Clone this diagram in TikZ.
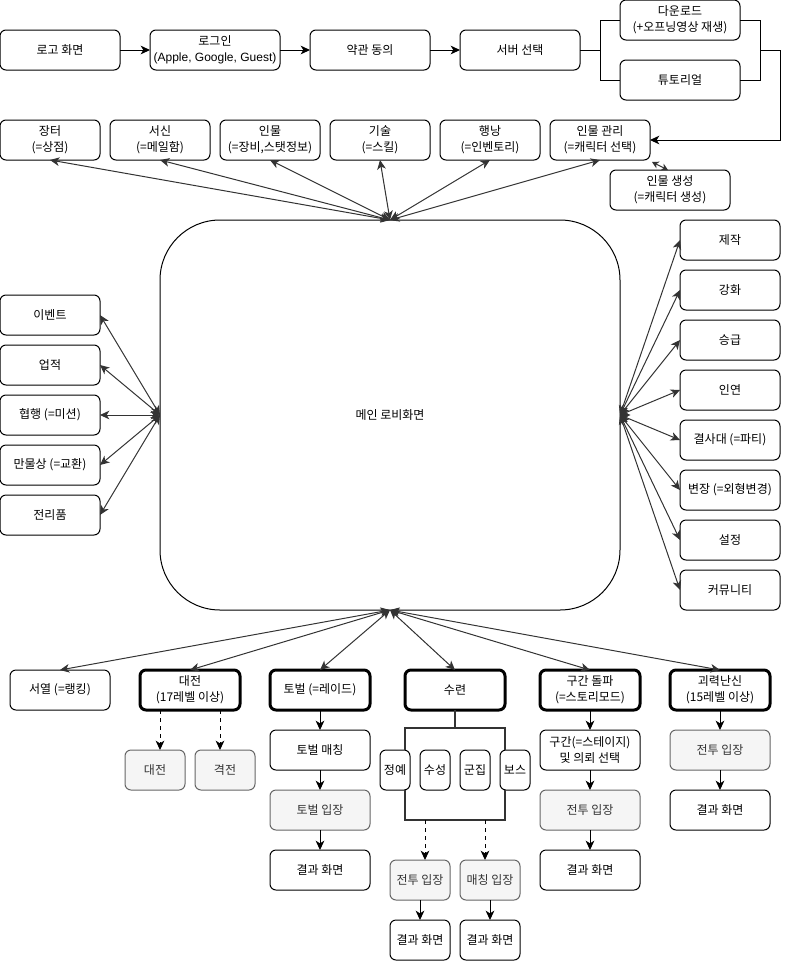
\documentclass[tikz,border=0pt]{standalone}
\usepackage{fontspec}
\setmainfont{Noto Sans CJK KR}
\newfontfamily\latfont{Liberation Sans}
\usetikzlibrary{arrows.meta,calc}
\definecolor{gfill}{HTML}{F5F5F5}
\definecolor{gdraw}{HTML}{666666}
\definecolor{gtext}{HTML}{333333}
\definecolor{lc}{HTML}{333333}
\begin{document}
\begin{tikzpicture}[x=0.75pt,y=-0.75pt,
  >={Stealth[length=7pt,width=6.5pt,inset=2pt]},
  every node/.style={font=\fontsize{9pt}{12pt}\selectfont},
  box/.style={draw, rounded corners=4.5pt, inner sep=0pt, outer sep=0pt,
    minimum height=30pt, minimum width=75pt, align=center, line width=0.75pt},
  gbox/.style={box, fill=gfill, draw=gdraw, text=gtext},
  tbox/.style={box, line width=2.25pt},
  w120/.style={minimum width=90pt},
  w130/.style={minimum width=97.5pt},
  w60/.style={minimum width=45pt},
  w30/.style={minimum width=22.5pt},
  arr/.style={->, line width=0.75pt},
  darr/.style={->, line width=0.75pt, dashed},
  ra/.style={<->, draw=lc, line width=0.75pt},
  rasmall/.style={{Stealth[length=5pt,width=5.5pt,inset=1.5pt]}-{Stealth[length=5pt,width=5.5pt,inset=1.5pt]}, draw=lc, line width=0.75pt},
  brk/.style={draw=lc, line width=1.5pt},
  pl/.style={line width=0.75pt}]
\useasboundingbox (0,0) rectangle (789,961);

% row 1
\node[box,w120] (logo) at (60,50) {로고 화면};
\node[box,w130] (login) at (215,50) {로그인\\{\latfont (Apple, Google, Guest)}};
\node[box,w120] (terms) at (370,50) {약관 동의};
\node[box,w120] (server) at (520,50) {서버 선택};
\node[box,w120] (dl) at (680,20) {다운로드\\(+오프닝영상 재생)};
\node[box,w120] (tut) at (680,80) {튜토리얼};

\draw[arr] (logo) -- (login);
\draw[arr] (login) -- (terms);
\draw[arr] (terms) -- (server);
\coordinate (sl) at (600,50);
\coordinate (sr1c) at (760,50);
\coordinate (sr2c) at (780,50);
\draw[pl] (server.east) -- (sl);
\draw[pl] (dl.west) -- (dl.west -| sl) -- (tut.west -| sl) -- (tut.west);
\draw[pl] (dl.east) -- (dl.east -| sr1c) -- (tut.east -| sr1c) -- (tut.east);

% row 2
\node[box] (jt) at (50,140) {장터\\(=상점)};
\node[box] (sx) at (160,140) {서신\\(=메일함)};
\node[box] (im) at (270,140) {인물\\(=장비,스탯정보)};
\node[box] (gs) at (380,140) {기술\\(=스킬)};
\node[box] (hn) at (490,140) {행낭\\(=인벤토리)};
\node[box] (imm) at (600,140) {인물 관리\\(=캐릭터 선택)};
\node[box,w120] (ims) at (670,190) {인물 생성\\(=캐릭터 생성)};

\draw[arr] (sr1c) -- (sr2c) -- (sr2c |- imm.east) -- (imm.east);
\draw[rasmall] ([xshift=1.5pt,yshift=-1.5pt]imm.south east) -- ([xshift=-1.5pt]ims.north);

% main
\node[draw, line width=0.75pt, rounded corners=45pt, minimum width=345pt,
  minimum height=292.5pt, inner sep=0pt, outer sep=0pt] (main) at (390,415) {메인 로비화면};

% left
\node[box] (ev) at (50,315) {이벤트};
\node[box] (up) at (50,365) {업적};
\node[box] (hh) at (50,415) {협행 (=미션)};
\node[box] (mm) at (50,465) {만물상 (=교환)};
\node[box] (jr) at (50,515) {전리품};

% right
\node[box] (r1) at (730,240) {제작};
\node[box] (r2) at (730,290) {강화};
\node[box] (r3) at (730,340) {승급};
\node[box] (r4) at (730,390) {인연};
\node[box] (r5) at (730,440) {결사대 (=파티)};
\node[box] (r6) at (730,490) {변장 (=외형변경)};
\node[box] (r7) at (730,540) {설정};
\node[box] (r8) at (730,590) {커뮤니티};

% bottom row
\node[box] (sy) at (60,690) {서열 (=랭킹)};
\node[tbox] (dj) at (190,690) {대전\\(17레벨 이상)};
\node[tbox] (tb) at (320,690) {토벌 (=레이드)};
\node[tbox] (sn) at (455,690) {수련};
\node[tbox] (gg) at (590,690) {구간 돌파\\(=스토리모드)};
\node[tbox] (gr) at (720,690) {괴력난신\\(15레벨 이상)};

% radial connectors
\foreach \n in {jt,sx,im,gs,hn,imm} \draw[ra] (main.north) -- (\n.south);
\foreach \n in {ev,up,hh,mm,jr} \draw[ra] (main.west) -- (\n.east);
\foreach \n in {r1,r2,r3,r4,r5,r6,r7,r8} \draw[ra] (main.east) -- (\n.west);
\foreach \n in {sy,dj,tb,sn,gg,gr} \draw[ra] (main.south) -- (\n.north);

% 대전
\node[gbox,w60] (dj1) at (155,770) {대전};
\node[gbox,w60] (dj2) at (225,770) {격전};
\draw[darr] ([xshift=-22.5pt]dj.south) -- ([xshift=-22.5pt]dj.south |- dj1.north);
\draw[darr] ([xshift=22.5pt]dj.south) -- ([xshift=22.5pt]dj.south |- dj2.north);

% 토벌
\node[box] (tb1) at (320,750) {토벌 매칭};
\node[gbox] (tb2) at (320,810) {토벌 입장};
\node[box] (tb3) at (320,870) {결과 화면};
\draw[arr] (tb) -- (tb1);
\draw[arr] (tb1) -- (tb2);
\draw[arr] (tb2) -- (tb3);

% 수련
\node[box,w30] (sa) at (395,770) {정예};
\node[box,w30] (sb) at (435,770) {수성};
\node[box,w30] (sc) at (475,770) {군집};
\node[box,w30] (sd) at (515,770) {보스};
\coordinate (bl) at (405,728);
\coordinate (br) at (505,728);
\coordinate (bl2) at (405,820);
\coordinate (br2) at (505,820);
\draw[brk] (sn.south) -- (sn.south |- bl);
\draw[brk] (sa.north -| bl) -- (bl) -- (br) -- (sd.north -| br);
\draw[brk] (sa.south -| bl) -- (bl2) -- (br2) -- (sd.south -| br);
\node[gbox,w60] (s1) at (420,880) {전투 입장};
\node[gbox,w60] (s2) at (490,880) {매칭 입장};
\node[box,w60] (s3) at (420,940) {결과 화면};
\node[box,w60] (s4) at (490,940) {결과 화면};
\coordinate (bd1) at (425,820);
\coordinate (bd2) at (485,820);
\draw[darr] (bd1) -- (bd1 |- s1.north);
\draw[darr] (bd2) -- (bd2 |- s2.north);
\draw[arr] (s1) -- (s3);
\draw[arr] (s2) -- (s4);

% 구간 돌파
\node[box] (gg1) at (590,750) {구간(=스테이지)\\및 의뢰 선택};
\node[gbox] (gg2) at (590,810) {전투 입장};
\node[box] (gg3) at (590,870) {결과 화면};
\draw[arr] (gg) -- (gg1);
\draw[arr] (gg1) -- (gg2);
\draw[arr] (gg2) -- (gg3);

% 괴력난신
\node[gbox] (gr1) at (720,750) {전투 입장};
\node[box] (gr2) at (720,810) {결과 화면};
\draw[arr] (gr) -- (gr1);
\draw[arr] (gr1) -- (gr2);
\end{tikzpicture}
\end{document}
